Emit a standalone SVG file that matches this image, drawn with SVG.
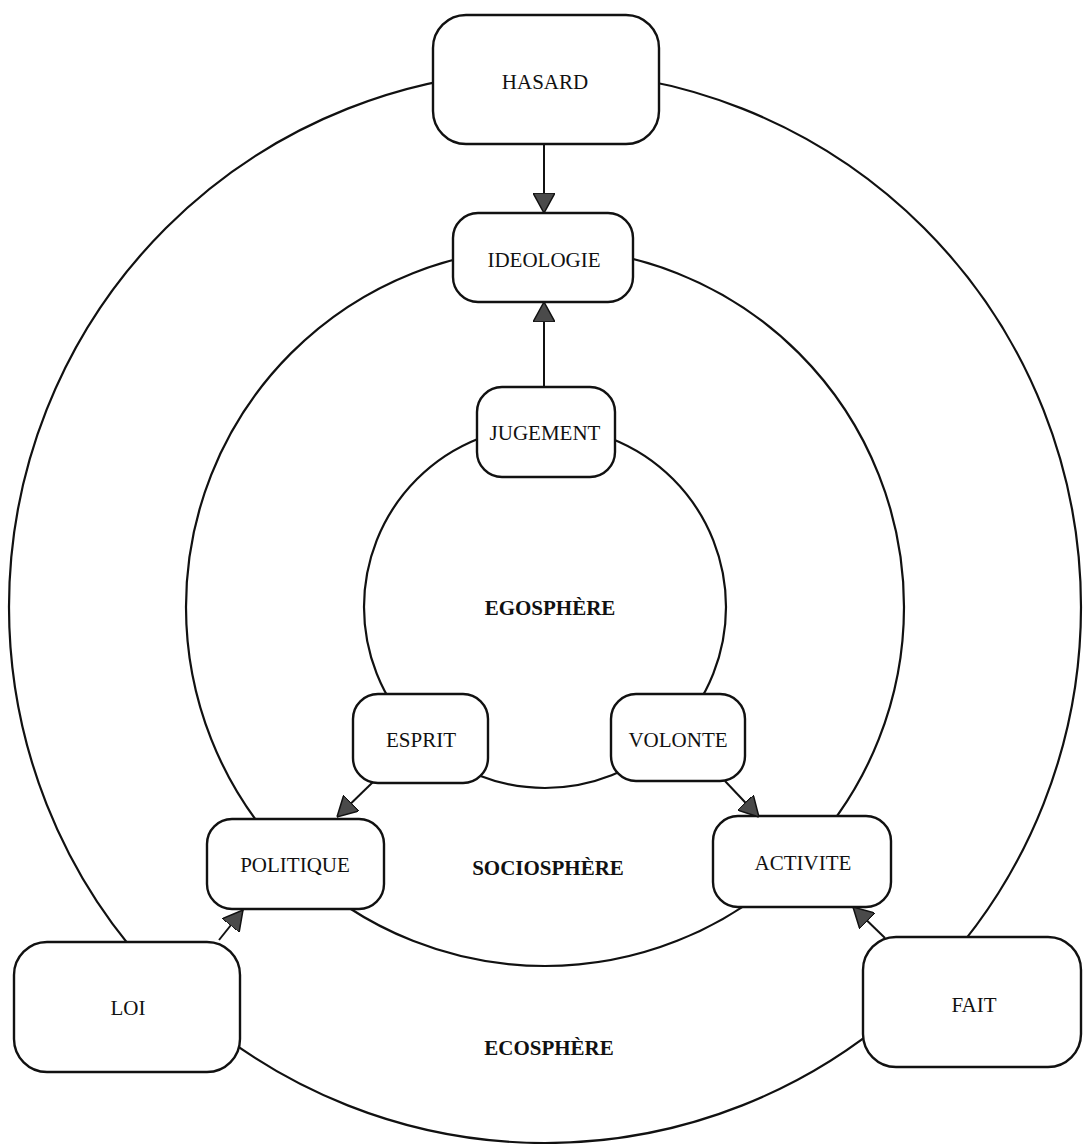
<svg xmlns="http://www.w3.org/2000/svg" width="1083" height="1144" viewBox="0 0 1083 1144">
<defs>
<style>
.ring{fill:none;stroke:#111;stroke-width:2.2}
.box{fill:#fff;stroke:#111;stroke-width:2.4}
.lbl{font-family:"Liberation Serif","Times New Roman",serif;font-size:21px;fill:#111;text-anchor:middle}
.zone{font-family:"Liberation Serif","Times New Roman",serif;font-size:21px;font-weight:bold;fill:#111;text-anchor:middle}
.edge{fill:none;stroke:#111;stroke-width:2;marker-end:url(#arr)}
</style>
<marker id="arr" viewBox="0 0 20 22" refX="20" refY="11" markerWidth="20" markerHeight="22" markerUnits="userSpaceOnUse" orient="auto">
<path d="M0,0 L20,11 L0,22 Z" fill="#4a4a4a" stroke="#111" stroke-width="1.5"/>
</marker>
</defs>
<rect width="1083" height="1144" fill="#fff"/>
<g id="spheres">
<circle class="ring" cx="545" cy="607" r="536"/>
<circle class="ring" cx="545" cy="607" r="359"/>
<circle class="ring" cx="545" cy="607" r="181"/>
<text class="zone" x="550" y="615">EGOSPHÈRE</text>
<text class="zone" x="548" y="875">SOCIOSPHÈRE</text>
<text class="zone" x="549" y="1055">ECOSPHÈRE</text>
</g>
<g id="hasard"><rect class="box" x="433" y="15" width="226" height="129" rx="33"/><text class="lbl" x="545" y="89">HASARD</text></g>
<g id="ideologie"><rect class="box" x="453" y="213" width="180" height="89" rx="25"/><text class="lbl" x="544" y="267">IDEOLOGIE</text></g>
<g id="jugement"><rect class="box" x="477" y="387" width="138" height="90" rx="25"/><text class="lbl" x="545" y="440">JUGEMENT</text></g>
<g id="esprit"><rect class="box" x="353" y="694" width="135" height="89" rx="25"/><text class="lbl" x="421" y="747">ESPRIT</text></g>
<g id="volonte"><rect class="box" x="611" y="694" width="134" height="87" rx="25"/><text class="lbl" x="678" y="747">VOLONTE</text></g>
<g id="politique"><rect class="box" x="207" y="819" width="177" height="90" rx="25"/><text class="lbl" x="295" y="872">POLITIQUE</text></g>
<g id="activite"><rect class="box" x="713" y="816" width="178" height="91" rx="25"/><text class="lbl" x="803" y="870">ACTIVITE</text></g>
<g id="loi"><rect class="box" x="14" y="942" width="226" height="130" rx="33"/><text class="lbl" x="128" y="1015">LOI</text></g>
<g id="fait"><rect class="box" x="863" y="937" width="218" height="130" rx="33"/><text class="lbl" x="974" y="1012">FAIT</text></g>
<g id="connectors">
<line class="edge" x1="544" y1="144" x2="544" y2="213"/>
<line class="edge" x1="544" y1="387" x2="544" y2="302"/>
<line class="edge" x1="373" y1="782" x2="337" y2="817"/>
<line class="edge" x1="725" y1="781" x2="759" y2="817"/>
<line class="edge" x1="219" y1="940" x2="243" y2="910"/>
<line class="edge" x1="885" y1="938" x2="853" y2="907"/>
</g>
</svg>
